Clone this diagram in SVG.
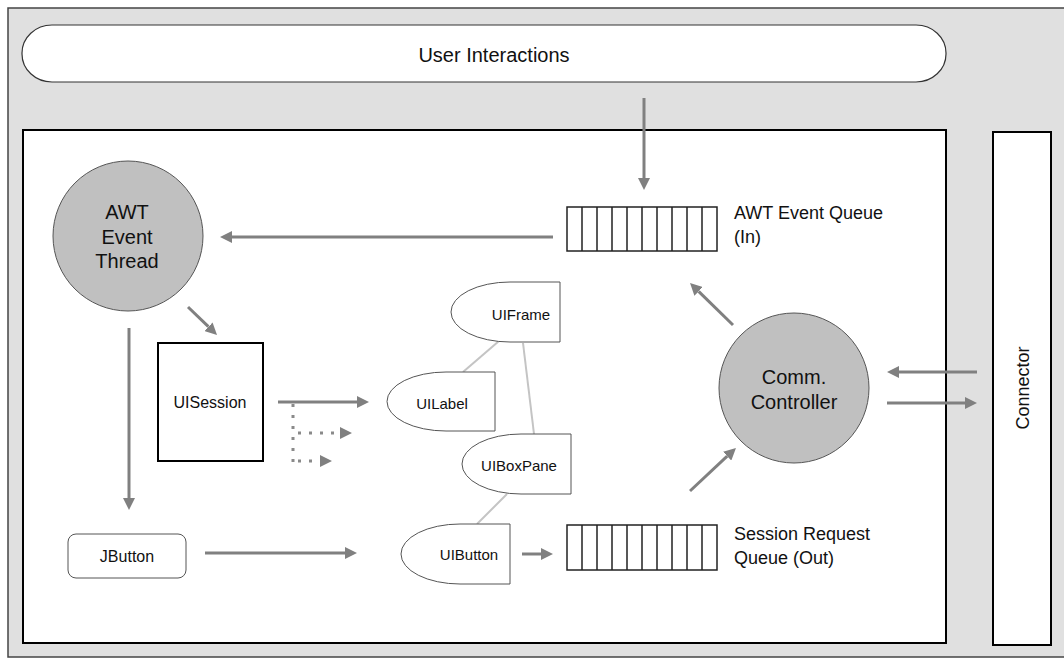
<svg xmlns="http://www.w3.org/2000/svg" width="1064" height="661" viewBox="0 0 1064 661">
<style>
text{font-family:"Liberation Sans",Arial,sans-serif;fill:#111}
.lbl{font-size:18px}
.big{font-size:20px;text-anchor:middle}
.sm{font-size:15px;text-anchor:middle}
.md{font-size:16px;text-anchor:middle}
.circ{fill:#c0c0c0;stroke:#555;stroke-width:1}
.dshape{fill:#fff;stroke:#555;stroke-width:1}
.q{fill:#fff;stroke:#222;stroke-width:1.5}
.arr{stroke:#808080;stroke-width:3;fill:none;marker-end:url(#ah)}
.dot{stroke:#8a8a8a;stroke-width:3;fill:none;stroke-dasharray:3 8}
.tree{stroke:#c4c4c4;stroke-width:2;fill:none}
</style>
<defs>
<marker id="ah" markerUnits="userSpaceOnUse" markerWidth="12" markerHeight="12" viewBox="0 0 12 12" refX="0" refY="6" orient="auto">
<path d="M0,0 L12,6 L0,12 Z" fill="#808080"/>
</marker>
</defs>
<rect id="frame" x="8" y="8" width="1070" height="649" fill="#e0e0e0" stroke="#444" stroke-width="1.5"/>
<g id="user-interactions">
<rect x="22" y="25" width="924" height="57" rx="30" ry="28" fill="#fff" stroke="#333" stroke-width="1.2"/>
<text x="494" y="62" style="font-size:20px;text-anchor:middle">User Interactions</text>
</g>
<g id="inner-box"><rect x="23" y="130" width="923" height="513" fill="#fff" stroke="#000" stroke-width="2"/></g>
<g id="connector">
<rect x="993" y="132" width="58" height="513" fill="#fff" stroke="#000" stroke-width="2"/>
<text transform="translate(1029,388) rotate(-90)" class="lbl" text-anchor="middle">Connector</text>
</g>
<g id="awt-thread">
<circle class="circ" cx="128" cy="236" r="75"/>
<text class="big" x="127" y="219">AWT</text>
<text class="big" x="127" y="244">Event</text>
<text class="big" x="127" y="268">Thread</text>
</g>
<g id="comm-controller">
<circle class="circ" cx="794" cy="388" r="75"/>
<text class="big" x="794" y="384">Comm.</text>
<text class="big" x="794" y="409">Controller</text>
</g>
<g id="awt-queue">
<rect class="q" x="567" y="207" width="150" height="44"/>
<path d="M582,207V251M597,207V251M612,207V251M627,207V251M642,207V251M657,207V251M672,207V251M687,207V251M702,207V251" stroke="#222" stroke-width="1.5"/>
<text class="lbl" x="734" y="219">AWT Event Queue</text>
<text class="lbl" x="734" y="243">(In)</text>
</g>
<g id="session-queue">
<rect class="q" x="567" y="525" width="150" height="45"/>
<path d="M582,525V570M597,525V570M612,525V570M627,525V570M642,525V570M657,525V570M672,525V570M687,525V570M702,525V570" stroke="#222" stroke-width="1.5"/>
<text class="lbl" x="734" y="540">Session Request</text>
<text class="lbl" x="734" y="564">Queue (Out)</text>
</g>
<g id="uisession">
<rect x="158" y="343" width="105" height="118" fill="#fff" stroke="#000" stroke-width="2"/>
<text class="md" x="210" y="408">UISession</text>
</g>
<g id="jbutton">
<rect x="68" y="534" width="118" height="44" rx="8" fill="#fff" stroke="#555" stroke-width="1"/>
<text class="md" x="127" y="562">JButton</text>
</g>
<g id="tree-lines">
<path class="tree" d="M499,341 L463,372"/>
<path class="tree" d="M523,343 L534,434"/>
<path class="tree" d="M507,494 L477,524"/>
</g>
<g id="uiframe">
<path class="dshape" d="M560,282 L510,282 A59,30 0 0 0 510,342 L560,342 Z"/>
<text class="sm" x="521" y="320">UIFrame</text>
</g>
<g id="uilabel">
<path class="dshape" d="M495,372 L446,372 A59,29.5 0 0 0 446,431 L495,431 Z"/>
<text class="sm" x="442" y="409">UILabel</text>
</g>
<g id="uiboxpane">
<path class="dshape" d="M571,434 L521,434 A59,30 0 0 0 521,494 L571,494 Z"/>
<text class="sm" x="519" y="471">UIBoxPane</text>
</g>
<g id="uibutton">
<path class="dshape" d="M510,524 L460,524 A59,30 0 0 0 460,584 L510,584 Z"/>
<text class="sm" x="469" y="560">UIButton</text>
</g>
<g id="connectors">
<path class="arr" d="M644,98 L644,178"/>
<path class="arr" d="M553,237 L232,237"/>
<path class="arr" d="M188,307 L208.4,326.7"/>
<path class="arr" d="M129,328 L129,498"/>
<path class="arr" d="M278,402 L357,402"/>
<path class="dot" d="M293,404 L293,462"/>
<path class="dot" d="M298,433 L338,433"/>
<path class="dot" d="M298,461 L318,461"/>
<path d="M340,427 L352,433 L340,439 Z M320,455 L332,461 L320,467 Z" fill="#808080"/>
<path class="arr" d="M205,553 L345,553"/>
<path class="arr" d="M522,554 L541,554"/>
<path class="arr" d="M690,491 L727.2,456.2"/>
<path class="arr" d="M733,325 L698.6,291.4"/>
<path class="arr" d="M977,372 L899,372"/>
<path class="arr" d="M887,403 L965,403"/>
</g>
</svg>
